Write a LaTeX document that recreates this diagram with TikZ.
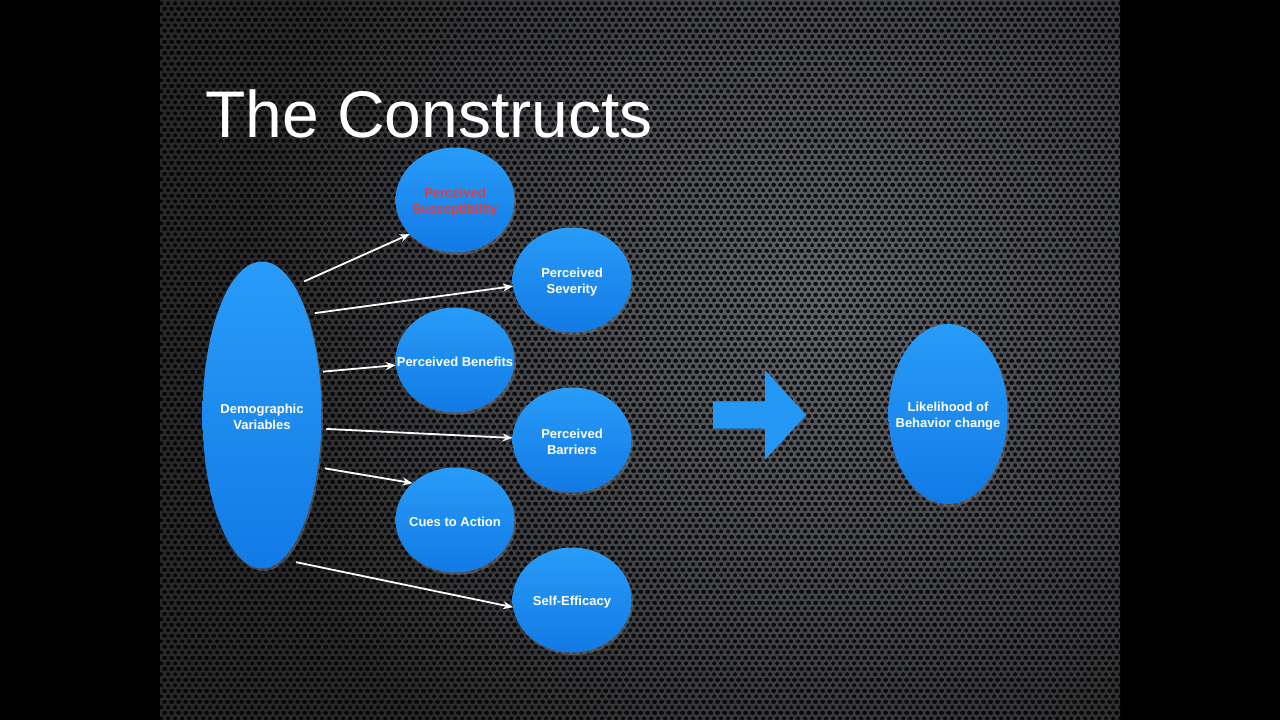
\documentclass[tikz,border=0pt]{standalone}
\usepackage{fontspec}
\setmainfont{Liberation Sans}
\usetikzlibrary{shapes,arrows.meta,patterns.meta,shadows}
\definecolor{bgdark}{RGB}{40,40,42}
\definecolor{bglight}{RGB}{96,99,104}
\definecolor{constop}{RGB}{40,156,248}
\definecolor{consbot}{RGB}{18,122,230}
\definecolor{susred}{RGB}{232,58,58}
\tikzdeclarepattern{
  name=holes,
  type=uncolored,
  bottom left={(0pt,0pt)},
  top right={(6.6pt,11.4pt)},
  tile size={(6.6pt,11.4pt)},
  code={
    \fill (3.3pt,2.85pt) circle (2.1pt);
    \fill (0pt,8.55pt) circle (2.1pt);
    \fill (6.6pt,8.55pt) circle (2.1pt);
  }
}
\tikzstyle{cons}=[ellipse,inner sep=0pt,outer sep=0pt,minimum width=119pt,minimum height=105pt,top color=constop,bottom color=consbot,drop shadow={opacity=0.45,shadow xshift=1.5pt,shadow yshift=-2.5pt}]
\tikzstyle{constext}=[align=center,text=white,yshift=-2pt,font=\fontsize{13}{16}\selectfont\bfseries]
\tikzstyle{link}=[-{Stealth[length=10pt,width=8pt]},white,line width=1.8pt]

\begin{document}
\begin{tikzpicture}[x=1pt,y=-1pt]
\useasboundingbox (0,0) rectangle (1280,720);
% backdrop
\fill[black] (0,0) rectangle (1280,720);
\begin{scope}
\clip (160,0) rectangle (1120,720);
\fill[bgdark] (160,0) rectangle (1120,720);
\shade[inner color=bglight,outer color=bgdark] (820,300) circle (580);
\fill[pattern=holes,pattern color=black,fill opacity=0.85] (160,0) rectangle (1120,720);
\end{scope}
\node[anchor=base west,inner sep=0pt,text=white,font=\fontsize{66}{66}\selectfont] (title) at (205,137) {The Constructs};
% constructs
\node[cons,minimum height=307pt,label={[constext]center:{Demographic\\Variables}}] (demo) at (262,415) {};
\node[cons,label={[constext,text=susred]center:{Perceived\\Susceptibility}}] (susc) at (455,200) {};
\node[cons,label={[constext]center:{Perceived\\Severity}}] (sev) at (572,280) {};
\node[cons,label={[constext]center:{Perceived Benefits}}] (ben) at (455,360) {};
\node[cons,label={[constext]center:{Perceived\\Barriers}}] (bar) at (572,440) {};
\node[cons,label={[constext]center:{Cues to Action}}] (cues) at (455,520) {};
\node[cons,label={[constext]center:{Self-Efficacy}}] (self) at (572,600) {};
\node[cons,minimum height=180pt,label={[constext]center:{Likelihood of\\Behavior change}}] (like) at (948,414) {};
\node[single arrow,fill=constop!85!consbot,draw=none,anchor=west,minimum height=93pt,minimum width=90pt,inner xsep=2pt,inner ysep=13.5pt,single arrow head extend=31.5pt,single arrow tip angle=95] (big) at (713,415) {};
% links
\draw[link,shorten <=11pt] (demo.76) -- (susc.217);
\draw[link,shorten <=8pt] (demo.66) -- (sev.186);
\draw[link,shorten <=4pt] (demo.37) -- (ben.185);
\draw[link,shorten <=5pt] (demo.347) -- (bar.178);
\draw[link,shorten <=7pt] (demo.317) -- (cues.139);
\draw[link,shorten <=14pt] (demo.278) -- (self.187);
\end{tikzpicture}
\end{document}
